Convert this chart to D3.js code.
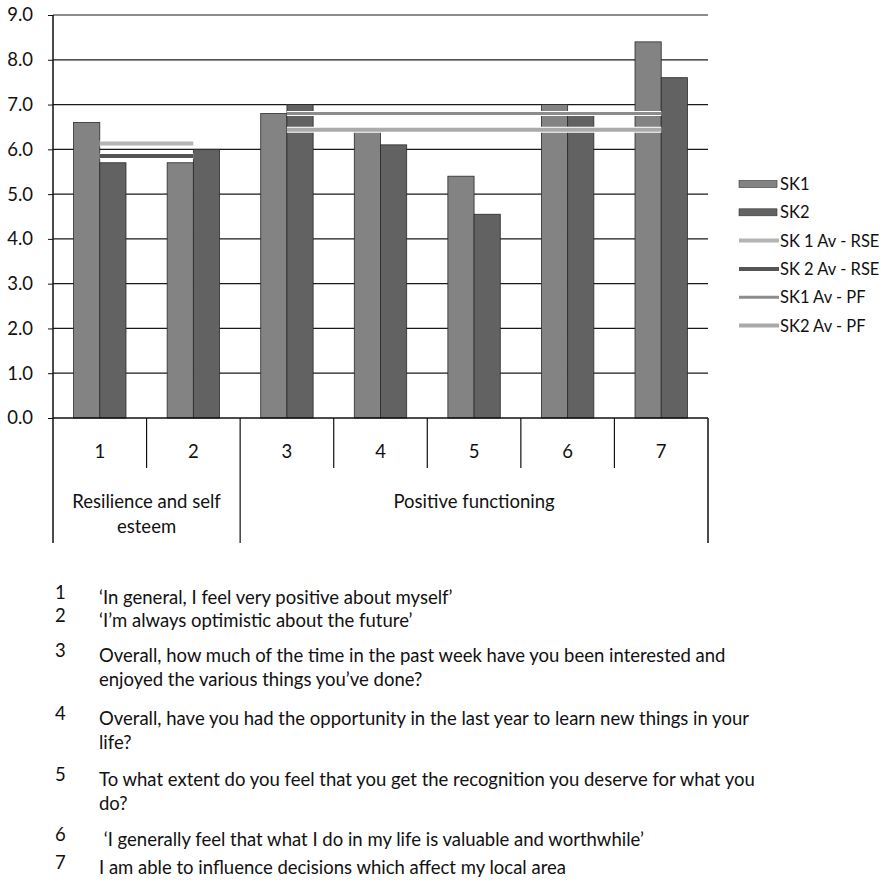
<!DOCTYPE html>
<html>
<head>
<meta charset="utf-8">
<script src="https://cdn.jsdelivr.net/npm/d3@7"></script>
<style>
  body { margin: 0; background: #fff; }
  svg text { font-family: Lato, "Open Sans", sans-serif; fill: #111; }
</style>
</head>
<body>
<div class="chart"></div>
<script>
// values
const categories = ['1', '2', '3', '4', '5', '6', '7'];
const sk1 = [6.6, 5.7, 6.8, 6.4, 5.4, 7.0, 8.4];
const sk2 = [5.7, 6.0, 7.0, 6.1, 4.55, 6.8, 7.6];

// average lines (Excel line series over their own categories)
const rseCats = ['1', '2'];
const pfCats = ['3', '4', '5', '6', '7'];
const sk1AvRse = [6.13, 6.13];
const sk2AvRse = [5.85, 5.85];
const sk1AvPf = [6.8, 6.8, 6.8, 6.8, 6.8];
const sk2AvPf = [6.44, 6.44, 6.44, 6.44, 6.44];

const yTicks = [0, 1, 2, 3, 4, 5, 6, 7, 8, 9];
const groups = [
  {name: ['Resilience and self', 'esteem'], from: '1', to: '2'},
  {name: ['Positive functioning'], from: '3', to: '7'}
];
const questions = [
  ['1', ['\u2018In general, I feel very positive about myself\u2019']],
  ['2', ['\u2018I\u2019m always optimistic about the future\u2019']],
  ['3', ['Overall, how much of the time in the past week have you been interested and',
         'enjoyed the various things you\u2019ve done?']],
  ['4', ['Overall, have you had the opportunity in the last year to learn new things in your',
         'life?']],
  ['5', ['To what extent do you feel that you get the recognition you deserve for what you',
         'do?']],
  ['6', [' \u2018I generally feel that what I do in my life is valuable and worthwhile\u2019']],
  ['7', ['I am able to influence decisions which affect my local area']]
];

const W = 882, H = 884;
const plotLeft = 53, plotRight = 708, plotTop = 15, plotBottom = 418;
const fs = '18.5px';

const svg = d3.select('.chart').append('svg')
    .attr('width', W)
    .attr('height', H);

const x = d3.scaleBand()
    .domain(categories)
    .range([plotLeft, plotRight])
    .padding(0);

const inner = x.bandwidth() * 0.22;
const x1 = d3.scaleBand()
    .domain(['SK1', 'SK2'])
    .range([inner, x.bandwidth() - inner]);

const y = d3.scaleLinear()
    .domain([0, 9])
    .range([plotBottom, plotTop]);

const colors = {SK1: '#838383', SK2: '#626262'};

// gridlines
svg.append('g')
    .selectAll('line')
    .data(yTicks.slice(1))
    .enter()
    .append('line')
    .attr('x1', plotLeft).attr('x2', plotRight)
    .attr('y1', d => y(d)).attr('y2', d => y(d))
    .attr('stroke', '#1a1a1a')
    .attr('stroke-width', 1.2);

// y axis
const yAxis = d3.axisLeft(y)
    .tickValues(yTicks)
    .tickFormat(d3.format('.1f'))
    .tickSize(5)
    .tickPadding(15);

const gy = svg.append('g')
    .attr('class', 'axis y-axis')
    .attr('transform', `translate(${plotLeft},0)`)
    .call(yAxis);
gy.select('.domain').remove();
gy.selectAll('text').style('font-size', fs).attr('fill', '#111');
gy.selectAll('line').attr('stroke', '#111');

// bars
const barData = categories.map((c, i) => ({cat: c, vals: [{k: 'SK1', v: sk1[i]}, {k: 'SK2', v: sk2[i]}]}));

svg.append('g')
    .selectAll('g')
    .data(barData)
    .enter()
    .append('g')
    .attr('transform', d => `translate(${x(d.cat)},0)`)
    .selectAll('rect')
    .data(d => d.vals)
    .enter()
    .append('rect')
    .attr('x', d => x1(d.k))
    .attr('width', x1.bandwidth())
    .attr('y', d => y(d.v))
    .attr('height', d => y(0) - y(d.v))
    .attr('fill', d => colors[d.k])
    .attr('stroke', '#2a2a2a')
    .attr('stroke-width', 0.8);

// average lines
const line = d3.line()
    .x(d => x(d.c) + x.bandwidth() / 2)
    .y(d => y(d.v));

const avgSeries = [
  {name: 'SK 1 Av - RSE', cats: rseCats, vals: sk1AvRse, color: '#b4b4b4', w: 4},
  {name: 'SK 2 Av - RSE', cats: rseCats, vals: sk2AvRse, color: '#555555', w: 4},
  {name: 'SK1 Av - PF', cats: pfCats, vals: sk1AvPf, color: '#8c8c8c', w: 3},
  {name: 'SK2 Av - PF', cats: pfCats, vals: sk2AvPf, color: '#aaaaaa', w: 4}
];

avgSeries.forEach(s => {
  const pts = s.cats.map((c, i) => ({c: c, v: s.vals[i]}));
  svg.append('path')
      .attr('d', line(pts))
      .attr('fill', 'none')
      .attr('stroke', '#fff')
      .attr('stroke-width', s.w + 2);
  svg.append('path')
      .attr('d', line(pts))
      .attr('fill', 'none')
      .attr('stroke', s.color)
      .attr('stroke-width', s.w);
});

// axis frame: left axis and baseline
svg.append('line')
    .attr('x1', plotLeft).attr('x2', plotLeft)
    .attr('y1', plotTop).attr('y2', 543)
    .attr('stroke', '#111').attr('stroke-width', 1.5);
svg.append('line')
    .attr('x1', plotLeft).attr('x2', plotRight)
    .attr('y1', plotBottom).attr('y2', plotBottom)
    .attr('stroke', '#111').attr('stroke-width', 1.5);
svg.append('line')
    .attr('x1', plotRight).attr('x2', plotRight)
    .attr('y1', plotBottom).attr('y2', 543)
    .attr('stroke', '#111').attr('stroke-width', 1.5);

// category dividers (short) and group dividers (long)
const groupStarts = groups.map(g => g.from);
svg.append('g')
    .selectAll('line')
    .data(categories.slice(1))
    .enter()
    .append('line')
    .attr('x1', d => x(d)).attr('x2', d => x(d))
    .attr('y1', plotBottom)
    .attr('y2', d => groupStarts.includes(d) ? 543 : 468)
    .attr('stroke', '#111')
    .attr('stroke-width', 1.2);

// category labels
svg.append('g')
    .selectAll('text')
    .data(categories)
    .enter()
    .append('text')
    .attr('x', d => x(d) + x.bandwidth() / 2)
    .attr('y', 458)
    .attr('text-anchor', 'middle')
    .style('font-size', fs)
    .text(d => d);

// group labels
const g0x = (x(groups[0].from) + x(groups[0].to) + x.bandwidth()) / 2;
svg.append('text')
    .attr('x', g0x)
    .attr('y', 508)
    .attr('text-anchor', 'middle')
    .style('font-size', fs)
    .text(groups[0].name[0]);
svg.append('text')
    .attr('x', g0x)
    .attr('y', 533)
    .attr('text-anchor', 'middle')
    .style('font-size', fs)
    .text(groups[0].name[1]);
svg.append('text')
    .attr('x', x('5') + x.bandwidth() / 2)
    .attr('y', 508)
    .attr('text-anchor', 'middle')
    .style('font-size', fs)
    .text(groups[1].name[0]);

// legend
const legendItems = [
  {name: 'SK1', type: 'bar', color: colors.SK1},
  {name: 'SK2', type: 'bar', color: colors.SK2}
].concat(avgSeries.map(s => ({name: s.name, type: 'line', color: s.color, w: s.w})));

const legend = svg.append('g')
    .selectAll('g')
    .data(legendItems)
    .enter()
    .append('g')
    .attr('transform', (d, i) => `translate(739, ${184 + i * 28.3})`);

legend.filter(d => d.type === 'bar')
    .append('rect')
    .attr('x', 0).attr('y', -3.5)
    .attr('width', 38).attr('height', 7)
    .attr('fill', d => d.color)
    .attr('stroke', '#333').attr('stroke-width', 0.6);

legend.filter(d => d.type === 'line')
    .append('line')
    .attr('x1', 0).attr('x2', 40)
    .attr('y1', 0).attr('y2', 0)
    .attr('stroke', d => d.color)
    .attr('stroke-width', d => d.w);

legend.append('text')
    .attr('x', 41)
    .attr('y', 6)
    .style('font-size', '16.5px')
    .text(d => d.name);

// question list under the chart
const listStart = [598, 621, 656, 719, 780, 840, 868];
const q = svg.append('g')
    .selectAll('g')
    .data(questions)
    .enter()
    .append('g')
    .attr('transform', (d, i) => `translate(0, ${listStart[i]})`);

q.append('text')
    .attr('x', 55)
    .attr('y', 1)
    .style('font-size', fs)
    .text(d => d[0]);

q.selectAll('.ql')
    .data(d => d[1])
    .enter()
    .append('text')
    .attr('class', 'ql')
    .attr('x', 99)
    .attr('y', (d, i) => 6 + i * 24)
    .style('font-size', fs)
    .style('white-space', 'pre')
    .text(d => d);
</script>
</body>
</html>
